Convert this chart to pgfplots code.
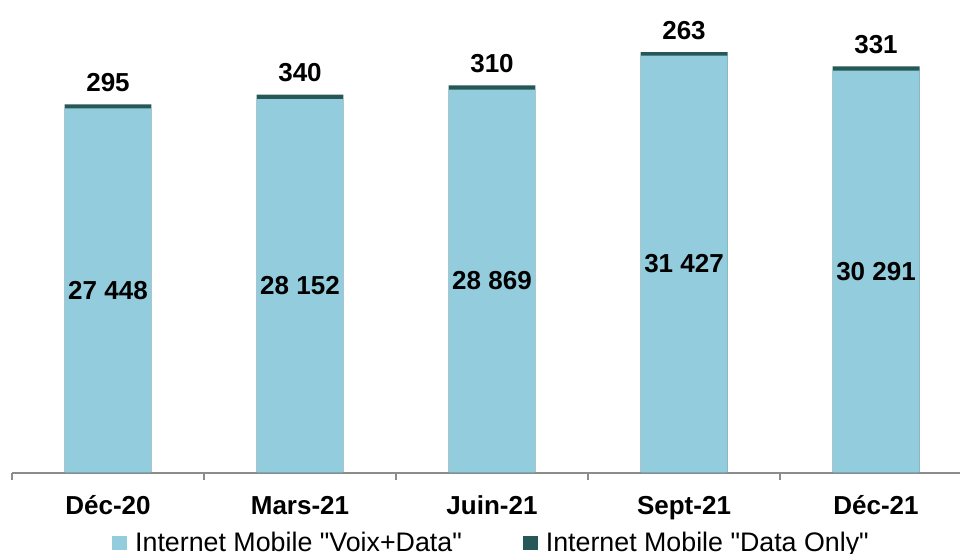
\documentclass[border=0pt]{standalone}
\usepackage{pgfplots}
\usepackage{pgfplotstable}
\pgfplotsset{compat=1.18}
\usepackage{fontspec}
\setmainfont{Liberation Sans}[Ligatures=TeXOff]
\definecolor{lightb}{RGB}{147,205,221}
\definecolor{darkb}{RGB}{37,88,86}
\definecolor{axgrey}{RGB}{140,140,140}
\pgfplotsset{sqlegend/.style={legend image code/.code={\draw[##1,draw=none] (0bp,-3.7bp) rectangle (7.5bp,3.7bp);}}}
\pgfplotstableread{
x light dark labl labd
0 27448 295 {27 448} 295
1 28152 340 {28 152} 340
2 28869 310 {28 869} 310
3 31427 263 {31 427} 263
4 30291 331 {30 291} 331
}\datatab
\begin{document}
\begin{tikzpicture}
\begin{axis}[name=ax, at={(0,0)}, anchor=south west,
  scale only axis, width=474bp, height=236.25bp,
  xmin=-0.5, xmax=4.4375, ymin=0, ymax=35618,
  ybar, bar shift=0pt, bar width=0.453,
  axis x line*=bottom, axis y line=none,
  x axis line style={axgrey, line width=1bp},
  xtick={0,1,2,3,4}, xticklabels={Déc-20,Mars-21,Juin-21,Sept-21,Déc-21},
  major tick length=0pt,
  minor xtick={-0.5,0.5,1.5,2.5,3.5},
  minor tick length=3.5bp, tick align=outside,
  minor tick style={axgrey,line width=1bp},
  xticklabel style={font=\fontsize{13bp}{15bp}\selectfont\bfseries, anchor=base, yshift=-21bp, inner sep=0pt},
  clip=false,
  legend columns=2,
  legend style={at={(0.5063,-0.149)}, anchor=center, draw=none, fill=none,
    font=\fontsize{13.4bp}{15bp}\selectfont,
    nodes={inner sep=1.5bp},
    /tikz/every odd column/.append style={column sep=2.5bp},
    /tikz/every even column/.append style={column sep=29bp}},
]
% total bar (dark "Data Only" segment shows on top)
\addplot[fill=darkb, draw=none, forget plot,
  point meta=explicit symbolic,
  nodes near coords,
  every node near coord/.append style={anchor=south, yshift=6bp,
    font=\fontsize{13bp}{15bp}\selectfont\bfseries, inner sep=0pt}]
  table[x=x, y expr=\thisrow{light}+\thisrow{dark}, meta=labd]{\datatab};
% light "Voix+Data" bar
\addplot[fill=lightb, draw=none, sqlegend] table[x=x, y=light]{\datatab};
\addlegendentry{Internet Mobile "Voix+Data"}
% centred labels of the light bars
\addplot[draw=none, fill=none, forget plot,
  point meta=explicit symbolic,
  nodes near coords,
  every node near coord/.append style={anchor=center,
    font=\fontsize{13bp}{15bp}\selectfont\bfseries, inner sep=0pt}]
  table[x=x, y expr=0.5*\thisrow{light}, meta=labl]{\datatab};
\addlegendimage{fill=darkb, draw=none, sqlegend}
\addlegendentry{Internet Mobile "Data Only"}
\end{axis}
\pgfresetboundingbox
\path[use as bounding box] (-6bp,-40.75bp) rectangle (474bp,236.25bp);
\end{tikzpicture}
\end{document}
